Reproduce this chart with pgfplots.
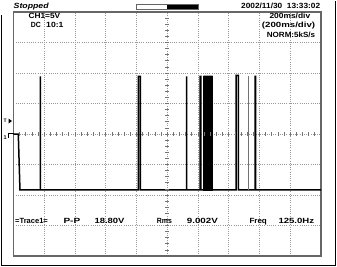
\documentclass[border=0pt]{standalone}
\usepackage{pgfplots}
\pgfplotsset{compat=1.18}
\usepackage{graphicx}
\usepackage{fontspec}
\setmainfont{Liberation Sans}
\newcommand{\W}[2]{\resizebox{#1pt}{\height}{#2}}
\tikzset{lab/.style={anchor=base west, inner sep=0, font=\fontsize{7.5}{8}\selectfont\bfseries}}
\begin{document}
\begin{tikzpicture}[x=1pt,y=1pt]
\useasboundingbox (0,0) rectangle (337,-266);
\fill[white] (0,0) rectangle (337,-266);
\begin{axis}[
  at={(13.5pt,-12pt)}, anchor=north west,
  scale only axis, width=307.5pt, height=244pt,
  xmin=0, xmax=10, ymin=-4, ymax=4,
  xtick={1,...,9}, ytick={-3,...,3},
  xticklabels={}, yticklabels={},
  major tick length=0pt,
  grid=major,
  major grid style={black!40, dash pattern=on 0.8pt off 1.4pt, line width=0.6pt},
  axis line style={black!60, line width=1.2pt},
]
% trace (divisions: x 0..10, y -4..4)
\addplot[black, line width=1.5pt, line join=miter] coordinates {
  (0,0) (0.156,0) (0.21,-1.83)
  (0.872,-1.83) (0.872,1.887) (0.872,-1.83)
  (4.063,-1.83) (4.063,1.887) (4.122,1.887) (4.122,-1.83)
  (5.626,-1.83) (5.626,1.887) (5.626,-1.83)
  (6.067,-1.83) (6.067,1.887) (6.096,1.887) (6.096,-1.83)
  (6.197,-1.83) (6.197,1.887) (6.454,1.887) (6.454,-1.83)
  (7.237,-1.83) (7.237,1.92) (7.309,1.92) (7.309,-1.83)
  (7.855,-1.83) (7.855,1.887) (7.871,1.887) (7.871,-1.83)
  (10,-1.83)
};
\addplot[fill=black, draw=black, line width=1.5pt] coordinates {
  (6.197,-1.83) (6.197,1.887) (6.454,1.887) (6.454,-1.83)
} -- cycle;
\addplot[black!55, line width=0.9pt] coordinates {(7.649,-1.83) (7.649,1.887)};
\end{axis}
% centre-line ticks
\foreach \i in {1,...,49} {
  \draw[black!55, line width=0.8pt] ({13.5+\i*6.15},-132.2) -- ({13.5+\i*6.15},-135.8);
}
\foreach \j in {1,...,39} {
  \draw[black!55, line width=0.8pt] (165.3,{-12-\j*6.1}) -- (169.2,{-12-\j*6.1});
}
% outer border
\draw[black, line width=1pt] (1,-15) -- (1,-265) -- (335.5,-265) -- (335.5,-0.5);
% progress bar
\fill[white] (136.7,-4.3) rectangle (167.3,-9.5);
\fill[black] (167.3,-4.3) rectangle (198.3,-9.5);
\draw[black!60, line width=0.8pt] (136.7,-4.3) rectangle (198.3,-9.5);
% header texts
\node[lab, font=\fontsize{7.5}{8}\selectfont\bfseries\itshape] at (13.5,-8.3) {\W{35}{Stopped}};
\node[lab] at (241,-8.7) {\W{79}{2002/11/30\ \ 13:33:02}};
\node[lab] at (28.3,-18.3) {\W{31.7}{CH1=5V}};
\node[lab] at (30.7,-27.5) {\W{10}{DC}};
\node[lab] at (46,-27.5) {\W{17.3}{10:1}};
\node[lab] at (269.3,-18) {\W{40.7}{200ms/div}};
\node[lab] at (261.7,-27.2) {\W{53.3}{(200ms/div)}};
\node[lab] at (266.7,-37) {\W{48.3}{NORM:5kS/s}};
% measurement row
\node[lab] at (15,-223.5) {\W{32.7}{=Trace1=}};
\node[lab] at (63.3,-223.5) {\W{16.7}{P-P}};
\node[lab] at (94.3,-223.5) {\W{30}{18.80V}};
\node[lab] at (156.7,-223.5) {\W{15}{Rms}};
\node[lab] at (186.7,-223.5) {\W{31}{9.002V}};
\node[lab] at (249.3,-223.5) {\W{17.4}{Freq}};
\node[lab] at (278.3,-223.5) {\W{35.7}{125.0Hz}};
% left markers
\node[anchor=base west, inner sep=0, font=\fontsize{5}{6}\selectfont\bfseries] at (3.5,-122.5) {T};
\fill[black] (8.5,-118.5) -- (12,-121) -- (8.5,-123.5) -- cycle;
\node[anchor=base west, inner sep=0, font=\fontsize{5.5}{6}\selectfont\bfseries] at (3.5,-139) {1};
\draw[black, line width=0.8pt] (13.5,-133.3) -- (8.5,-133.3) -- (8.5,-138);
\end{tikzpicture}
\end{document}
